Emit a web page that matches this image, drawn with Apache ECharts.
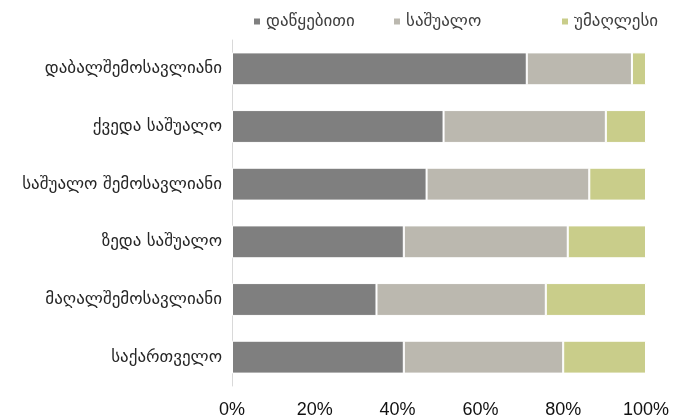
<!DOCTYPE html>
<html>
<head>
<meta charset="utf-8">
<script src="https://cdn.jsdelivr.net/npm/echarts@6/dist/echarts.min.js"></script>
<style>
  html, body { margin: 0; padding: 0; background: #fff; }
  #main { width: 686px; height: 419px; }
</style>
</head>
<body>
<div id="main"></div>
<script>
// categories, top to bottom
var categories = ['დაბალშემოსავლიანი', 'ქვედა საშუალო', 'საშუალო შემოსავლიანი', 'ზედა საშუალო', 'მაღალშემოსავლიანი', 'საქართველო'];
var seriesNames = ['დაწყებითი', 'საშუალო', 'უმაღლესი'];
var primary = [71.2, 51.1, 47.0, 41.5, 34.9, 41.5];
var secondary = [25.4, 39.2, 39.3, 39.6, 40.9, 38.5];
var higher = [3.4, 9.7, 13.7, 18.9, 24.2, 20.0];
var xTicks = [0, 20, 40, 60, 80, 100];

var colors = ['#7f7f7f', '#bbb8af', '#c9cd8a'];
var geoFont = '"DejaVu Sans", sans-serif';
var legendLefts = [247, 387, 555];

function makeSeries(name, data, color) {
  return {
    name: name,
    type: 'bar',
    stack: 'total',
    barCategoryGap: '43%',
    data: data,
    itemStyle: { color: color, borderColor: '#ffffff', borderWidth: 1 }
  };
}

// one legend per item so the slots sit where they are in the original
var legends = seriesNames.map(function(name, i){
  return {
    top: 8,
    left: legendLefts[i],
    itemWidth: 8,
    itemHeight: 8,
    itemGap: 0,
    icon: 'rect',
    textStyle: { fontFamily: geoFont, fontSize: 17, color: '#404040' },
    data: [name]
  };
});

var option = {
  animation: false,
  color: colors,
  legend: legends,
  grid: { left: 232, right: 40, top: 40, bottom: 31 },
  xAxis: {
    type: 'value',
    min: xTicks[0],
    max: xTicks[xTicks.length - 1],
    interval: 20,
    axisLine: { show: false },
    axisTick: { show: false },
    splitLine: { show: false },
    axisLabel: {
      formatter: '{value}%',
      fontFamily: '"Liberation Sans", Arial, sans-serif',
      fontSize: 18,
      color: '#111111',
      margin: 15
    }
  },
  yAxis: {
    type: 'category',
    inverse: true,
    data: categories,
    axisLine: { show: true, lineStyle: { color: '#d9d9d9', width: 1 } },
    axisTick: { show: false },
    axisLabel: { fontFamily: geoFont, fontSize: 17, color: '#262626', margin: 10 }
  },
  series: [
    makeSeries(seriesNames[0], primary, colors[0]),
    makeSeries(seriesNames[1], secondary, colors[1]),
    makeSeries(seriesNames[2], higher, colors[2])
  ]
};

var myChart = echarts.init(document.getElementById('main'));
myChart.setOption(option);
</script>
</body>
</html>
